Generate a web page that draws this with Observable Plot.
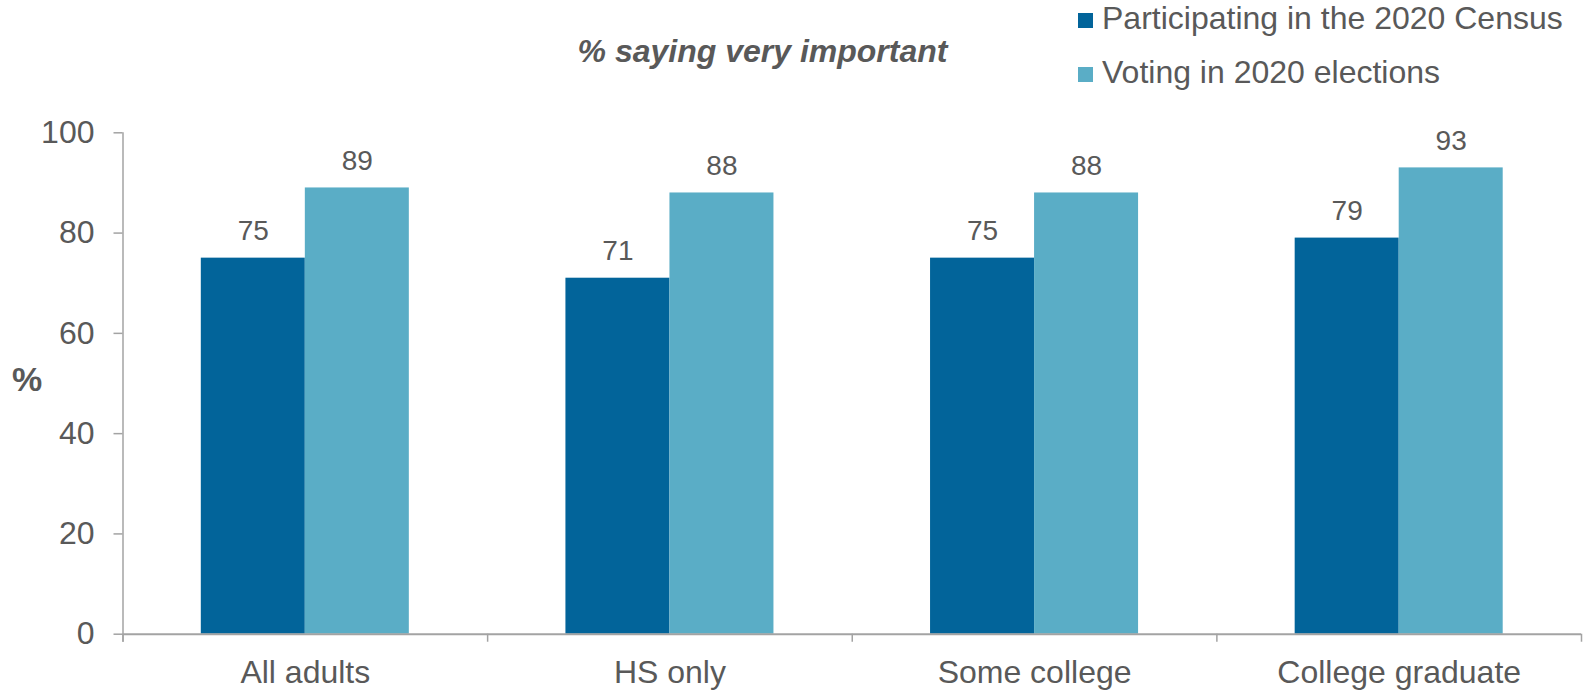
<!DOCTYPE html>
<html>
<head>
<meta charset="utf-8">
<script src="https://cdn.jsdelivr.net/npm/d3@7"></script>
<script src="https://cdn.jsdelivr.net/npm/@observablehq/plot@0.6"></script>
<style>
  html, body { margin: 0; padding: 0; background: #fff; }
  #wrap { position: relative; width: 1587px; height: 691px; font-family: "Liberation Sans", Arial, sans-serif; color: #595959; }
  #chart { position: absolute; left: 0; top: 0; }
  .title { position: absolute; left: 0; width: 1525px; top: 35px; text-align: center; font-size: 32px; line-height: 1; font-weight: bold; font-style: italic; white-space: nowrap; }
  .ylab { position: absolute; left: 12px; top: 362px; font-size: 34px; line-height: 1; font-weight: bold; }
  .leg { position: absolute; left: 1078px; font-size: 32px; line-height: 1; white-space: nowrap; }
  .leg .sw { position: absolute; left: 0; width: 15px; height: 15px; }
  .leg .tx { position: absolute; left: 24px; top: 0; }
</style>
</head>
<body>
<div id="wrap">
  <div id="chart"></div>
  <div class="title">% saying very important</div>
  <div class="ylab">%</div>
  <div id="legend"></div>
</div>
<script>
const categories = ["All adults", "HS only", "Some college", "College graduate"];
const seriesNames = ["Participating in the 2020 Census", "Voting in 2020 elections"];
const censusValues = [75, 71, 75, 79];
const votingValues = [89, 88, 88, 93];
const seriesColors = ["#02649A", "#5AADC6"];
const yTicks = [0, 20, 40, 60, 80, 100];

const W = 1587, H = 691;
const mL = 122.5, mR = 6, mT = 132.3, mB = 57.3;
const bw = (W - mL - mR) / categories.length;
const barW = 104, outer = 78.3;
const inner = bw - outer - barW;
const gray = "#A3A3A3";
const textColor = "#595959";

const census = categories.map((c, i) => ({cat: c, value: censusValues[i]}));
const voting = categories.map((c, i) => ({cat: c, value: votingValues[i]}));

const plot = Plot.plot({
  width: W,
  height: H,
  marginLeft: mL,
  marginRight: mR,
  marginTop: mT,
  marginBottom: mB,
  style: {fontFamily: "'Liberation Sans', Arial, sans-serif", color: textColor, background: "transparent", overflow: "visible"},
  x: {type: "band", domain: categories, padding: 0, round: false, label: null},
  y: {domain: [0, 100], label: null},
  marks: [
    Plot.barY(census, {x: "cat", y: "value", fill: seriesColors[0], insetLeft: outer, insetRight: inner}),
    Plot.barY(voting, {x: "cat", y: "value", fill: seriesColors[1], insetLeft: inner, insetRight: outer}),
    Plot.text(census, {x: "cat", y: "value", text: d => String(d.value), dx: -barW / 2, dy: -18, lineAnchor: "bottom", fontSize: 28, fill: textColor}),
    Plot.text(voting, {x: "cat", y: "value", text: d => String(d.value), dx: barW / 2, dy: -18, lineAnchor: "bottom", fontSize: 28, fill: textColor}),
    Plot.ruleY([0], {stroke: gray, strokeWidth: 2}),
    // category boundary ticks
    Plot.ruleX(categories, {x: d => d, y1: 0, y2: -1.6, dx: -bw / 2, stroke: gray, strokeWidth: 1.5}),
    Plot.ruleX([categories[categories.length - 1]], {x: d => d, y1: 0, y2: -1.6, dx: bw / 2, stroke: gray, strokeWidth: 1.5}),
    // y axis line
    Plot.ruleX([categories[0]], {x: d => d, y1: -1.6, y2: 100, dx: -bw / 2, stroke: gray, strokeWidth: 1.5}),
    Plot.axisY({ticks: yTicks, tickSize: 9, tickPadding: 19.5, fontSize: 32, stroke: gray, strokeWidth: 1.5, fill: textColor, label: null}),
    Plot.axisX({tickSize: 0, tickPadding: 26, fontSize: 32, fill: textColor, label: null})
  ]
});
document.getElementById("chart").appendChild(plot);

const legend = document.getElementById("legend");
const legTops = [2, 56];
seriesNames.forEach((name, i) => {
  const row = document.createElement("div");
  row.className = "leg";
  row.style.top = legTops[i] + "px";
  const sw = document.createElement("div");
  sw.className = "sw";
  sw.style.background = seriesColors[i];
  sw.style.top = "10.5px";
  const tx = document.createElement("div");
  tx.className = "tx";
  tx.textContent = name;
  row.appendChild(sw);
  row.appendChild(tx);
  legend.appendChild(row);
});
</script>
</body>
</html>
